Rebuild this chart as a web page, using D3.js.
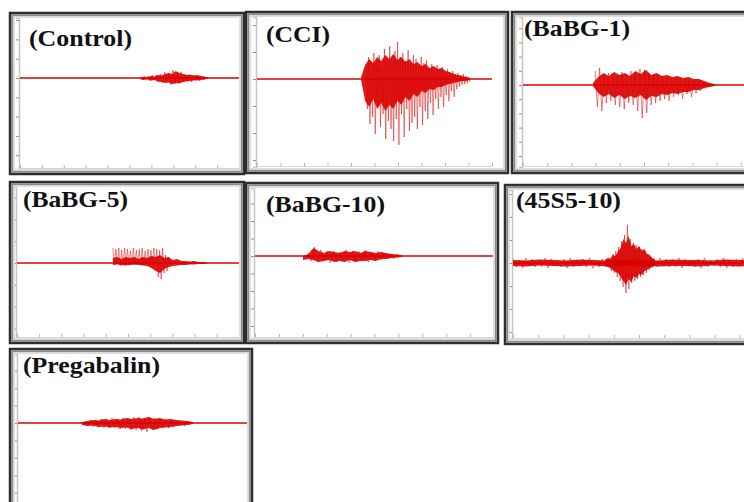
<!DOCTYPE html>
<html><head><meta charset="utf-8">
<script src="https://cdn.jsdelivr.net/npm/d3@7/dist/d3.min.js"></script>
<style>html,body{margin:0;padding:0;background:#fff;overflow:hidden}</style>
</head><body><svg id="c" width="744" height="502"></svg>
<script>
// ---------------- DATA ----------------
const panelLabels = ["(Control)", "(CCI)", "(BaBG-1)", "(BaBG-5)", "(BaBG-10)", "(45S5-10)", "(Pregabalin)"];
const recordSeconds = [0, 10];
// burst windows (s): [start, end]
const coreWindows  = [[5.48,8.58],[4.43,9.06],[2.89,7.93],[4.32,8.56],[2.01,6.15],[3.65,5.63],[2.79,7.64]];
const spikeWindows = [[5.48,8.58],[4.64,9.06],[2.98,7.52],[4.32,6.89],[2.22,6.07],[3.85,5.52],[2.93,7.51]];

// dense-core envelopes (amplitude, a.u.)
const controlUpper = [0,1,0.5,2,1.5,3,2.5,4,5,4,7,5,4,3,3.5,2.5,3,2,1.5,0.5];
const controlLower = [-1,-2,-1.5,-2.5,-2,-3.5,-4,-5,-4.5,-6,-5,-5.5,-4,-3.5,-3,-2.5,-2.5,-2,-1.5,-0.5];
const cciUpper = [2,14,20,16,22,18,24,20,25,19,22,17,20,15,17,13,15,11,13,10,11,8,7,5,4,3,2,1];
const cciLower = [-1,-22,-28,-20,-30,-24,-32,-26,-30,-22,-26,-18,-22,-15,-18,-12,-14,-10,-11,-8,-8,-6,-5,-4,-3,-2,-2,-1];
const babg1Upper = [2,8,12,9,13,10,12,9,14,11,15,10,12,9,10,8,9,7,8,6,6,4,2,1];
const babg1Lower = [-1,-8,-12,-9,-13,-10,-14,-11,-13,-10,-15,-11,-12,-9,-10,-8,-9,-7,-7,-5,-5,-3,-2,-1];
const babg5Upper = [5,6,4,6,5,6,4,6,5,7,6,8,5,6,3,4,2,2,1.5,2,1,1,0.5];
const babg5Lower = [-2,-1.5,-2,-2.5,-2,-1.5,-2,-2.5,-3,-5,-8,-10,-6,-4,-3,-2.5,-2,-2,-1.5,-1.5,-1,-1,-0.5];
const babg10Upper = [0,2,8,5,3,5,4,3,5,4,5,3,5,4,3,4,3,2,1.5,1];
const babg10Lower = [-4,-3,-4,-6,-5,-4,-6,-5,-6,-4,-6,-5,-5,-4,-5,-3,-3,-2,-1.5,-1];
const s45Upper = [3,5,4,8,7,12,15,24,20,27,17,19,14,17,12,14,9,8,5,4];
const s45Lower = [-3,-4,-5,-7,-9,-10,-14,-18,-22,-16,-19,-13,-15,-11,-12,-8,-7,-5,-4,-3];
const pregUpper = [1,2,3,2.5,4,3,4,3.5,5,4,5,4.5,6,4,5,3.5,4,3,2.5,2,1];
const pregLower = [-2,-3,-2.5,-4,-3.5,-4.5,-4,-5,-4.5,-6,-5,-6.5,-5,-7,-5,-4.5,-4,-3,-2.5,-2,-1];

// individual spike excursions (amplitude, a.u.)
const controlSpikes = [1,-2,2,-1,2,-3,3,-2,3,-4,4,-5,6,-4,5,-7,8,-6,5,-5,6,-4,4,-3,3,-4,3,-2,2,-3,2,-2,1,-1];
const cciSpikes = [14,-30,22,-45,10,-38,26,-55,18,-28,
                   24,-48,12,-35,30,-60,20,-42,33,-50,
                   16,-62,28,-40,37,-66,22,-35,26,-58,
                   18,-30,29,-52,14,-44,24,-38,20,-50,
                   12,-28,22,-46,16,-32,19,-40,10,-24,
                   15,-36,8,-20,14,-30,10,-18,12,-28,
                   7,-16,10,-22,6,-12,8,-18,5,-10,
                   6,-8,4,-6,5,-5,3,-4,2,-3];
const babg1Spikes = [14,-22,17,-26,10,-18,12,-16,11,-20,
                     9,-22,13,-24,10,-18,14,-20,12,-26,
                     16,-33,15,-28,12,-20,11,-18,10,-16,
                     9,-14,8,-16,7,-12,8,-10,7,-14,
                     6,-9,5,-12,5,-8,4,-6,3,-4];
const babg5Spikes = [15,-2,14,-1,15,-3,13,-2,15,-1,14,-2,12,-2,15,-2,13,-1,14,-2,
                     15,-2,12,-1,14,-2,13,-2,15,-3,14,-14,13,-16,15,-10,8,-8,5,-4];
const babg10Spikes = [3,-5,9,-6,6,-5,5,-7,5,-6,4,-5,6,-7,5,-6,5,-5,6,-6,4,-5,5,-4,3,-3,2,-3,2,-1];
const s45Spikes = [6,-8,9,-10,12,-14,16,-18,22,-24,28,-30,38,-26,24,-20,20,-18,18,-16,16,-14,14,-12,12,-10,9,-7,6,-5];
const pregSpikes = [2,-3,3,-4,3,-4,4,-5,4,-5,5,-5,4,-6,5,-6,5,-7,6,-7,6,-8,5,-9,6,-7,5,-6,4,-5,4,-5,3,-4,3,-3,2,-3,2,-2];

// 45S5-10 background noise across the whole record
const s45NoiseUpper = [3,2.5,3.5,3,2.5,3.5,3,2.5,3,3.5,3,2.5,3.5,3,3,2.5,3.5,3,3,2.5];
const s45NoiseLower = [-3,-3.5,-2.5,-3,-3.5,-3,-2.5,-3.5,-3,-3,-2.5,-3.5,-3,-3,-3.5,-2.5,-3,-3.5,-3,-3];
const s45NoiseSpikes = [4,-4,3,-5,5,-3,4,-4,3,-4,5,-5,4,-3,3,-4,4,-5,5,-4,3,-3,4,-4,5,-5,3,-4,4,-3,
                        5,-4,4,-5,3,-4,4,-3,5,-5,4,-4,3,-5,4,-4,5,-3,4,-4,3,-4,5,-5,4,-3,3,-4,4,-5,
                        5,-4,3,-3,4,-4,5,-5,3,-4,4,-3,5,-4,4,-5,3,-4,4,-3];

// ---------------- LAYOUT ----------------
const frames = [
  {x:10, y:13, w:234, h:161, axisX:20, right:239, baseY:78, top:18, bottom:169, step:19.3, lx:29, ly:46, lw:103},
  {x:246,y:12, w:262, h:161, axisX:257,right:492, baseY:79, top:17, bottom:167, step:27,   lx:266,ly:42, lw:64},
  {x:512,y:12, w:262, h:161, axisX:523,right:765, baseY:85, top:17, bottom:167, step:14.2, lx:524,ly:36, lw:106},
  {x:10, y:182,w:234, h:161, axisX:17, right:239, baseY:263,top:187,bottom:338, step:21.8, lx:23, ly:207,lw:105},
  {x:246,y:183,w:252, h:160, axisX:255,right:494, baseY:256,top:188,bottom:338, step:17.5, lx:266,ly:212,lw:119},
  {x:505,y:185,w:262, h:159, axisX:513,right:765, baseY:263,top:190,bottom:339, step:23,   lx:516,ly:208,lw:105},
  {x:10, y:349,w:242, h:161, axisX:18, right:247, baseY:423,top:354,bottom:512, step:17.4, lx:23, ly:373,lw:137}
];

const traces = [
  [{w:coreWindows[0],u:controlUpper,l:controlLower},{w:spikeWindows[0],s:controlSpikes}],
  [{w:coreWindows[1],u:cciUpper,l:cciLower},{w:spikeWindows[1],s:cciSpikes}],
  [{w:coreWindows[2],u:babg1Upper,l:babg1Lower},{w:spikeWindows[2],s:babg1Spikes}],
  [{w:coreWindows[3],u:babg5Upper,l:babg5Lower},{w:spikeWindows[3],s:babg5Spikes}],
  [{w:coreWindows[4],u:babg10Upper,l:babg10Lower},{w:spikeWindows[4],s:babg10Spikes}],
  [{w:recordSeconds,u:s45NoiseUpper,l:s45NoiseLower},{w:recordSeconds,s:s45NoiseSpikes},
   {w:coreWindows[5],u:s45Upper,l:s45Lower},{w:spikeWindows[5],s:s45Spikes}],
  [{w:coreWindows[6],u:pregUpper,l:pregLower},{w:spikeWindows[6],s:pregSpikes}]
];

const RED = "#da0000";
const svg = d3.select("#c");
const defs = svg.append("defs");

frames.forEach((f, i) => {
  const g = svg.append("g");
  // frame
  g.append("rect").attr("x", f.x).attr("y", f.y).attr("width", f.w).attr("height", f.h)
    .attr("fill", "#fff").attr("stroke", "#2e2e2e").attr("stroke-width", 2.5);
  g.append("rect").attr("x", f.x+2.2).attr("y", f.y+2.2).attr("width", f.w-4.4).attr("height", f.h-4.4)
    .attr("fill", "none").attr("stroke", "#8a8a8a").attr("stroke-width", 2);
  g.append("rect").attr("x", f.x+4).attr("y", f.y+4).attr("width", f.w-8).attr("height", f.h-8)
    .attr("fill", "none").attr("stroke", "#d4d4d4").attr("stroke-width", 1.5);

  const x = d3.scaleLinear().domain(recordSeconds).range([f.axisX, f.right]);
  const y = d3.scaleLinear().domain([f.baseY - f.bottom, f.baseY - f.top]).range([f.bottom, f.top]);

  const clipId = "clip" + i;
  defs.append("clipPath").attr("id", clipId).append("rect")
    .attr("x", f.x+5).attr("y", f.y+5).attr("width", f.w-10).attr("height", f.h-10);
  const pg = g.append("g").attr("clip-path", `url(#${clipId})`);

  // axes
  const d = y.domain();
  const tv = d3.range(Math.ceil(d[0]/f.step), Math.floor(d[1]/f.step)+1).map(k => k*f.step);
  const ya = pg.append("g").attr("transform", `translate(${f.axisX-1},0)`)
    .call(d3.axisLeft(y).tickValues(tv).tickSize(3).tickFormat(""));
  ya.select(".domain").attr("stroke", "#c4c4c4").attr("stroke-width", 1.5);
  ya.selectAll(".tick line").attr("stroke", "#8f8f8f");
  const xa = pg.append("g").attr("transform", `translate(0,${f.bottom-1})`)
    .call(d3.axisBottom(x).ticks(10).tickSize(-3).tickFormat(""));
  xa.select(".domain").attr("stroke", "#d6d6d6");
  xa.selectAll(".tick line").attr("stroke", "#b4b4b4");

  // baseline
  const line = d3.line().x(p => x(p[0])).y(p => y(p[1]));
  pg.append("path").attr("d", line(recordSeconds.map(t => [t, 0])))
    .attr("fill", "none").attr("stroke", RED).attr("stroke-width", 1.7);

  traces[i].forEach(layer => {
    const [a, b] = layer.w;
    if (layer.u) {
      const n = layer.u.length;
      const pts = layer.u.map((v, k) => [a + k*(b-a)/(n-1), layer.l[k], v]);
      pg.append("path")
        .attr("d", d3.area().x(p => x(p[0])).y0(p => y(p[1])).y1(p => y(p[2])).curve(d3.curveLinear)(pts))
        .attr("fill", RED).attr("fill-opacity", 0.9);
    } else {
      const n = layer.s.length;
      const pts = layer.s.map((v, k) => [a + k*(b-a)/(n-1), v]);
      pg.append("path").attr("d", line(pts))
        .attr("fill", "none").attr("stroke", RED).attr("stroke-width", 0.7).attr("stroke-opacity", 0.7);
    }
  });

  // label
  g.append("text").attr("x", f.lx).attr("y", f.ly)
    .attr("font-family", "'Liberation Serif','Times New Roman',serif")
    .attr("font-weight", "bold").attr("font-size", 23).attr("fill", "#111")
    .attr("textLength", f.lw).attr("lengthAdjust", "spacingAndGlyphs")
    .text(panelLabels[i]);
});
</script></body></html>
